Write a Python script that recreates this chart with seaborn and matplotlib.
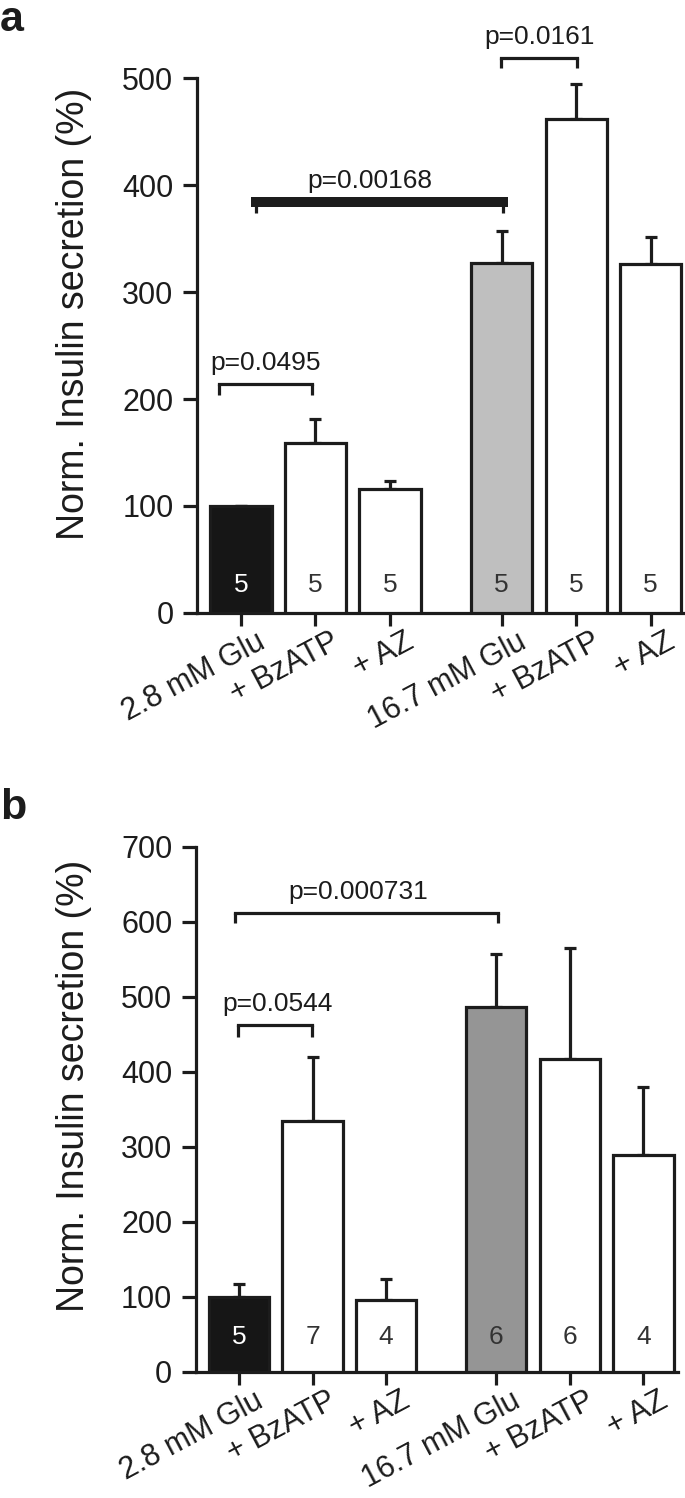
import numpy as np
import pandas as pd
import matplotlib.pyplot as plt
import matplotlib.transforms as mtransforms
import seaborn as sns

sns.set_style("ticks")
plt.rcParams['font.family'] = ['Liberation Sans', 'DejaVu Sans']

# conditions (two glucose groups, gap between them)
labels = ["2.8 mM Glu", "+ BzATP", "+ AZ", "16.7 mM Glu", "+ BzATP", "+ AZ"]
positions = [0, 1, 2, 3.5, 4.5, 5.5]

# panel a: mean, SEM, n
a_mean = [100, 159, 116, 327, 462, 326]
a_sem = [0, 22, 7, 30, 32, 25]
a_n = [5, 5, 5, 5, 5, 5]
a_colors = ["#161616", "white", "white", "#bfbfbf", "white", "white"]
# comparisons: (x1, x2, y, leg drop, text, text x, thick)
a_comp = [(-0.30, 0.95, 214, 10, "p=0.0495", 0.33, False),
          (0.20, 3.52, 384, 10, "p=0.00168", 1.73, True),
          (3.49, 4.51, 519, 10, "p=0.0161", 4.01, False)]

# panel b
b_mean = [100, 335, 96, 487, 417, 289]
b_sem = [17, 85, 28, 70, 148, 91]
b_n = [5, 7, 4, 6, 6, 4]
b_colors = ["#161616", "white", "white", "#959595", "white", "white"]
b_comp = [(-0.05, 3.52, 612, 14, "p=0.000731", 1.62, False),
          (-0.01, 0.99, 463, 16, "p=0.0544", 0.52, False)]

ink = "#1c1c1c"
lw = 2.3

fig = plt.figure(figsize=(6.85, 14.98), dpi=100)
ax_a = fig.add_axes([0.2876, 0.5908, 0.7124, 0.3571])
ax_b = fig.add_axes([0.2861, 0.0842, 0.7036, 0.3505])


def draw_panel(ax, mean, sem, n, colors, comps, ymax, ytext, xlim, label_y):
    ids = [f"c{i}" for i in range(len(mean))]
    df = pd.DataFrame({"pos": positions, "mean": mean, "id": ids})
    sns.barplot(data=df, x="pos", y="mean", hue="id", palette=dict(zip(ids, colors)),
                native_scale=True, width=0.82, dodge=False, edgecolor=ink,
                linewidth=lw, errorbar=None, legend=False, ax=ax, zorder=3)
    ax.errorbar(positions, mean, yerr=[np.zeros(len(sem)), sem], fmt="none",
                ecolor=ink, elinewidth=lw, capsize=4.5, capthick=lw, zorder=2)
    for x, k, c in zip(positions, n, colors):
        ax.text(x, ytext, str(k), ha="center", va="center", fontsize=19,
                color="white" if c == "#161616" else "#333333", zorder=4)
    for x1, x2, y, drop, txt, tx, thick in comps:
        ax.plot([x1, x1], [y - drop, y], color=ink, lw=lw, clip_on=False,
                solid_capstyle="butt")
        ax.plot([x2, x2], [y - drop, y], color=ink, lw=lw, clip_on=False,
                solid_capstyle="butt")
        ax.plot([x1, x2], [y, y], color=ink, lw=7.2 if thick else lw,
                clip_on=False, solid_capstyle="projecting")
        ax.text(tx, y + ymax * 0.017, txt, ha="center", va="bottom",
                fontsize=19, color=ink)
    ax.set_xlim(*xlim)
    ax.set_ylim(0, ymax)
    ax.set_yticks(np.arange(0, ymax + 1, 100))
    ax.set_xticks(positions, labels)
    ax.set_xlabel("")
    ax.set_ylabel("Norm. Insulin secretion (%)", fontsize=27, color=ink)
    ax.yaxis.set_label_coords(-0.215, label_y)
    ax.tick_params(axis="both", width=lw, length=10, color=ink,
                   labelsize=22, labelcolor=ink, pad=7)
    ax.tick_params(axis="x", labelsize=22, length=9, pad=1)
    shift = mtransforms.ScaledTranslation(0.15, 0, fig.dpi_scale_trans)
    for lab in ax.get_xticklabels():
        lab.set_rotation(28)
        lab.set_ha("right")
        lab.set_rotation_mode("anchor")
        lab.set_transform(lab.get_transform() + shift)
    sns.despine(ax=ax)
    for s in ["left", "bottom"]:
        ax.spines[s].set_linewidth(lw)
        ax.spines[s].set_color(ink)


draw_panel(ax_a, a_mean, a_sem, a_n, a_colors, a_comp, 500, 26, (-0.59, 5.96), 0.56)
draw_panel(ax_b, b_mean, b_sem, b_n, b_colors, b_comp, 700, 47, (-0.585, 5.97), 0.545)

fig.text(0.0, 1.0, "a", fontsize=31, fontweight="bold", ha="left", va="top", color=ink)
fig.text(0.0, 0.474, "b", fontsize=31, fontweight="bold", ha="left", va="top", color=ink)

fig.savefig("out.png", dpi=100)
